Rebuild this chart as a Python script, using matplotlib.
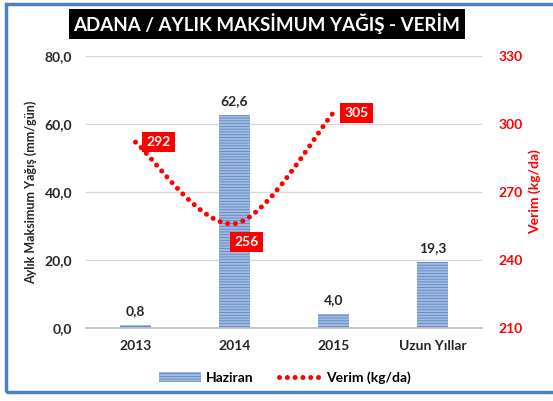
import matplotlib
matplotlib.use("Agg")
import matplotlib.pyplot as plt
from matplotlib.path import Path
from matplotlib.patches import PathPatch, Rectangle
from matplotlib.lines import Line2D
import numpy as np

categories = ["2013", "2014", "2015", "Uzun Yıllar"]
haziran = [0.8, 62.6, 4.0, 19.3]
verim_cats = ["2013", "2014", "2015"]
verim = [292, 256, 305]
left_ticks = [0, 20, 40, 60, 80]
right_ticks = [210, 240, 270, 300, 330]

FONT = "Lato"
plt.rcParams["font.family"] = [FONT, "DejaVu Sans"]
plt.rcParams["hatch.linewidth"] = 0.6

W, H = 553, 401
fig = plt.figure(figsize=(W / 100, H / 100), dpi=100)

# border
fig.patches.append(Rectangle((6 / W, 9 / H), 1.2, (401 - 4 - 9) / H, transform=fig.transFigure,
                             fill=False, edgecolor="#4F81BD", linewidth=2.5, zorder=0))

ax = fig.add_axes([86 / W, (H - 328) / H, (482 - 86) / W, (328 - 56) / H])
x = np.arange(len(categories))
bar_face = "#A4BBE0"
bar_edge = "#5A86C8"
ax.bar(x, haziran, width=0.31, color=bar_face, edgecolor=bar_edge, hatch="------",
       linewidth=0, zorder=2)
ax.set_xlim(-0.5, len(categories) - 0.5)
ax.set_ylim(0, 80)
ax.set_yticks(left_ticks)
ax.set_yticklabels([f"{t:.1f}".replace(".", ",") for t in left_ticks])
ax.set_xticks(x)
ax.set_xticklabels(categories)
ax.grid(axis="y", color="#D9D9D9", linewidth=1, zorder=0)
ax.set_axisbelow(True)
for s in ["top", "right", "left"]:
    ax.spines[s].set_visible(False)
ax.spines["bottom"].set_color("#BFBFBF")
ax.spines["bottom"].set_linewidth(1.2)
ax.tick_params(axis="both", length=0, labelsize=10, colors="#262626")
ax.tick_params(axis="y", pad=10)
ax.tick_params(axis="x", pad=9)
for lbl in ax.get_xticklabels() + ax.get_yticklabels():
    lbl.set_fontweight("bold")
ax.set_ylabel("Aylık Maksimum Yağış (mm/gün)", fontsize=9, fontweight="bold", color="#262626",
              labelpad=5)

for xi, v in zip(x, haziran):
    ax.annotate(f"{v:.1f}".replace(".", ","), (xi, v), xytext=(0, 6), textcoords="offset points",
                ha="center", va="bottom", fontsize=10, fontweight="bold", color="#262626")

ax2 = ax.twinx()
ax2.set_ylim(210, 330)
ax2.set_yticks(right_ticks)
ax2.set_yticklabels([str(t) for t in right_ticks])
for s in ax2.spines.values():
    s.set_visible(False)
ax2.tick_params(axis="y", length=0, labelsize=10, colors="#FF0000", pad=12)
for lbl in ax2.get_yticklabels():
    lbl.set_fontweight("bold")
ax2.set_ylabel("Verim (kg/da)", fontsize=10, fontweight="bold", color="#FF0000", labelpad=4)

# smoothed line (Excel-like Catmull-Rom bezier)
vx = np.array([categories.index(c) for c in verim_cats], dtype=float)
vy = np.array(verim, dtype=float)
pts = np.column_stack([vx, vy])
n = len(pts)
verts = [pts[0]]
codes = [Path.MOVETO]
for i in range(n - 1):
    p0 = pts[i - 1] if i > 0 else pts[i]
    p1 = pts[i]
    p2 = pts[i + 1]
    p3 = pts[i + 2] if i + 2 < n else pts[i + 1]
    c1 = p1 + (p2 - p0) / 6
    c2 = p2 - (p3 - p1) / 6
    verts += [c1, c2, p2]
    codes += [Path.CURVE4] * 3
path = Path(verts, codes)
red = "#FF0000"
dot_style = (0, (0.01, 1.55))
patch = PathPatch(path, fill=False, edgecolor=red, linewidth=3.6, linestyle=dot_style,
                  capstyle="round", zorder=3)
ax2.add_patch(patch)

offsets = [(8, 0), (0, -13), (8, 0)]
for xi, v, (dx, dy) in zip(vx, vy, offsets):
    ax2.annotate(str(int(v)), (xi, v), xytext=(dx, dy), textcoords="offset points", ha="left",
                 va="center", fontsize=10, fontweight="bold", color="white",
                 bbox=dict(boxstyle="square,pad=0.3", facecolor=red, edgecolor="none"), zorder=5)

# title
fig.text(267 / W, (H - 24) / H, "ADANA / AYLIK MAKSİMUM YAĞIŞ - VERİM", ha="center", va="center",
         fontsize=13.5, fontweight="bold", color="white",
         bbox=dict(boxstyle="square,pad=0.25", facecolor="black", edgecolor="none"))

# legend
h1 = Rectangle((0, 0), 1, 1, facecolor=bar_face, edgecolor=bar_edge, hatch="------", linewidth=0)
h2 = Line2D([0], [0], color=red, linewidth=3.6, linestyle=dot_style, dash_capstyle="round")
fig.legend([h1, h2], ["Haziran", "Verim (kg/da)"], loc="center", bbox_to_anchor=(285 / W, (H - 378) / H),
           ncol=2, frameon=False, prop={"weight": "bold", "size": 10}, handlelength=3.0,
           columnspacing=1.8, handletextpad=0.4)

fig.savefig("out.png", dpi=100)
